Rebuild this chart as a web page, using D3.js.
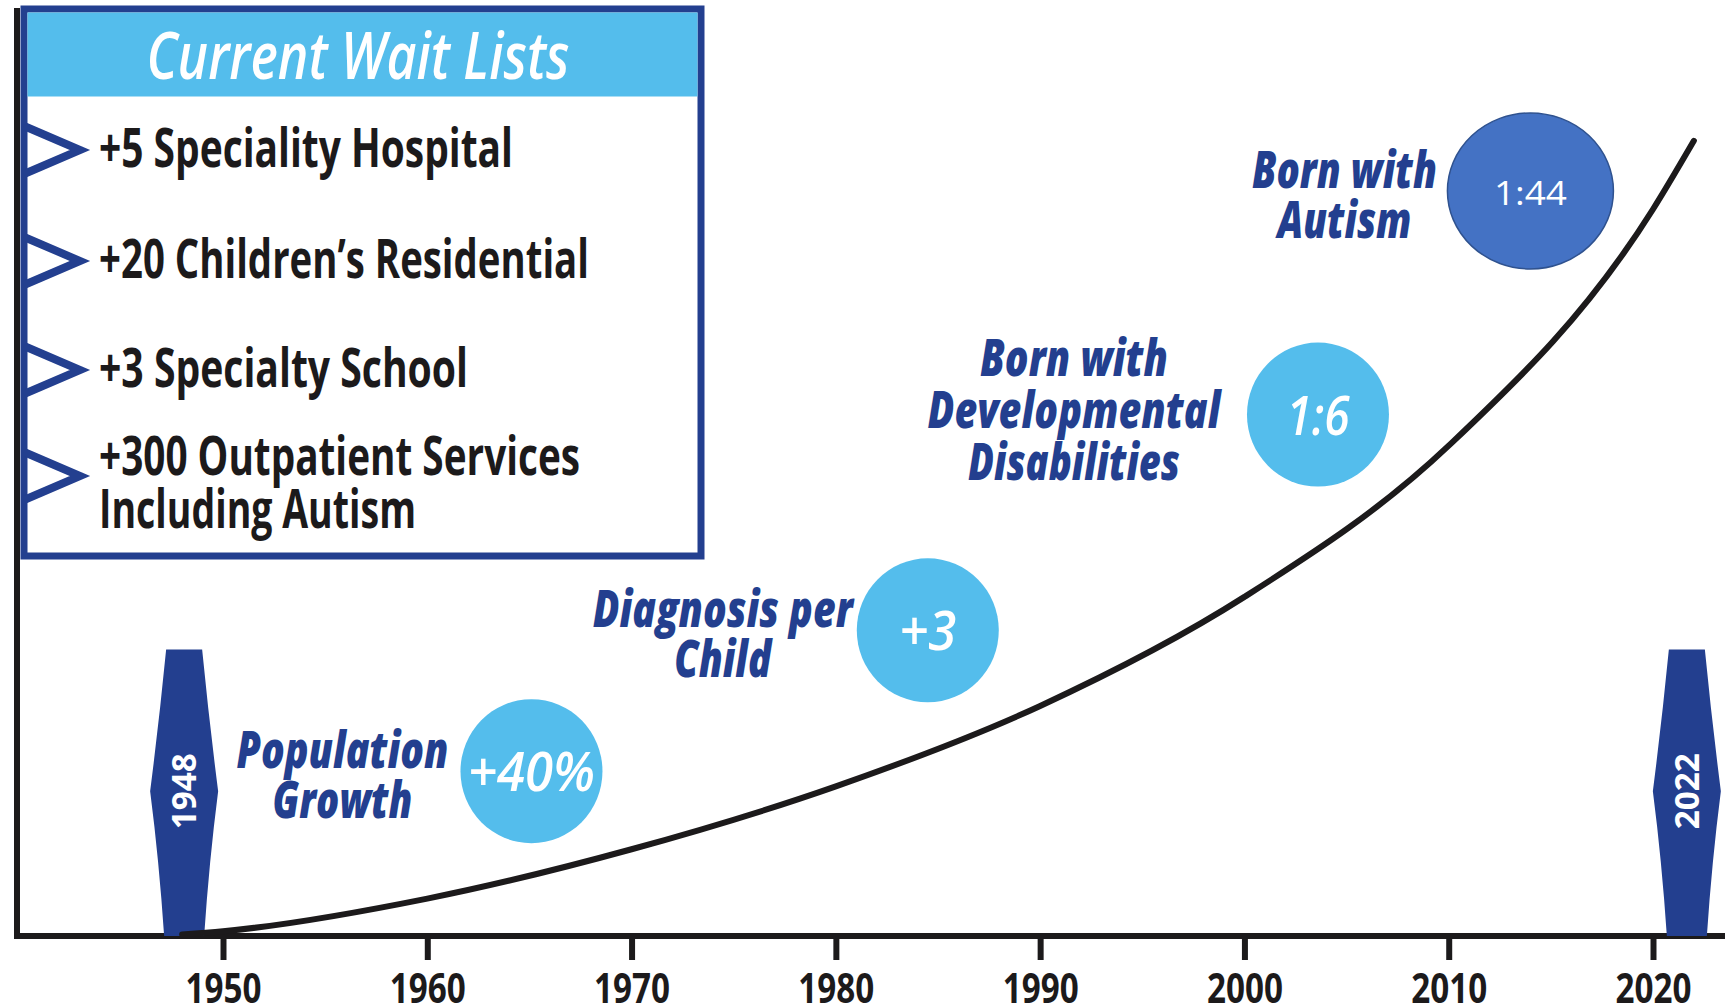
<!DOCTYPE html>
<html>
<head>
<meta charset="utf-8">
<script src="https://cdn.jsdelivr.net/npm/d3@7"></script>
<style>
  body { margin: 0; background: #fff; }
  svg { display: block; }
</style>
</head>
<body>
<svg id="chart"></svg>
<script>
// curve data (relative growth level)
const years = [1948, 1950, 1960, 1970, 1980, 1990, 2000, 2010, 2020, 2022];
const growth = [0.2, 0.6, 4.7, 10.9, 18.8, 28.9, 42.6, 61.6, 91.3, 99.9];

const tickYears = [1950, 1960, 1970, 1980, 1990, 2000, 2010, 2020];
const markerYears = [1948, 2022];

const waitTitle = "Current Wait Lists";
const waitItems = [
  ["+5 Speciality Hospital"],
  ["+20 Children\u2019s Residential"],
  ["+3 Specialty School"],
  ["+300 Outpatient Services", "Including Autism"]
];

const calloutValues = ["+40%", "+3", "1:6", "1:44"];
const calloutYears = [1965.1, 1984.5, 2003.6, 2014.0];
const calloutLevels = [20.7, 38.4, 65.5, 93.6];
const calloutLabels = [
  ["Population", "Growth"],
  ["Diagnosis per", "Child"],
  ["Born with", "Developmental", "Disabilities"],
  ["Born with", "Autism"]
];

const W = 1725, H = 1008;
const navy = "#233f8f", sky = "#54bdec", ink = "#1c1a1b";
const svg = d3.select("#chart").attr("width", W).attr("height", H);

const x = d3.scaleLinear().domain([1950, 2020]).range([223, 1653]);
const y = d3.scaleLinear().domain([0, 100]).range([936, 140]);
const axisY = y(0);

// axes
svg.append("line")
  .attr("x1", 17).attr("x2", 17).attr("y1", 8).attr("y2", axisY + 3)
  .attr("stroke", ink).attr("stroke-width", 6);

const xAxis = d3.axisBottom(x).tickValues(tickYears).tickFormat(d3.format("d"))
  .tickSize(24).tickPadding(13);
const gx = svg.append("g").attr("transform", `translate(0,${axisY})`).call(xAxis);
gx.select(".domain").remove();
gx.selectAll(".tick line").attr("stroke", ink).attr("stroke-width", 6);
gx.selectAll(".tick text")
  .attr("fill", ink)
  .style("font-family", "'Open Sans', sans-serif")
  .style("font-weight", 700)
  .style("font-size", "42px")
  .attr("textLength", 76).attr("lengthAdjust", "spacingAndGlyphs");
svg.append("line")
  .attr("x1", 14).attr("x2", W).attr("y1", axisY).attr("y2", axisY)
  .attr("stroke", ink).attr("stroke-width", 6);

// year markers (elongated hexagons)
const markerTop = y(36.0);
const markerMid = y(18.2);
markerYears.forEach((yr, k) => {
  const cx = x(yr) + (k === 0 ? 2 : -7);
  const p = d3.path();
  p.moveTo(cx - 18, markerTop);
  p.lineTo(cx + 18, markerTop);
  p.quadraticCurveTo(cx + 25, markerMid - 70, cx + 34, markerMid);
  p.quadraticCurveTo(cx + 25, markerMid + 70, cx + 20, axisY);
  p.lineTo(cx - 20, axisY);
  p.quadraticCurveTo(cx - 25, markerMid + 70, cx - 34, markerMid);
  p.quadraticCurveTo(cx - 25, markerMid - 70, cx - 18, markerTop);
  p.closePath();
  svg.append("path").attr("d", p.toString()).attr("fill", navy);
  svg.append("text")
    .attr("transform", `translate(${cx + 12},${markerMid}) rotate(-90)`)
    .attr("text-anchor", "middle")
    .attr("fill", "#fff")
    .style("font-family", "'Open Sans', sans-serif")
    .style("font-weight", 700)
    .style("font-size", "34px")
    .attr("textLength", 76).attr("lengthAdjust", "spacingAndGlyphs")
    .text(yr);
});

// growth curve
const line = d3.line()
  .x((d, i) => x(years[i]))
  .y(d => y(d))
  .curve(d3.curveMonotoneX);
svg.append("path")
  .datum(growth)
  .attr("d", line)
  .attr("fill", "none")
  .attr("stroke", ink)
  .attr("stroke-width", 6)
  .attr("stroke-linecap", "round");

// callouts
const labelDx = [-189, -205, -244, -186];
const labelLen = [[212, 140], [260, 97], [188, 293, 212], [185, 134]];
const valueLen = [127, 57, 63, 73];
calloutValues.forEach((v, i) => {
  const cx = x(calloutYears[i]), cy = y(calloutLevels[i]);
  const lines = calloutLabels[i];
  const top = lines.length === 3 ? -39 : -3;
  lines.forEach((t, j) => {
    svg.append("text")
      .attr("x", cx + labelDx[i]).attr("y", cy + top + j * (lines.length === 3 ? 52 : 50))
      .attr("text-anchor", "middle")
      .attr("fill", navy)
      .style("font-family", "'Open Sans', sans-serif")
      .style("font-weight", 800).style("font-style", "italic")
      .style("font-size", "52px")
      .attr("textLength", labelLen[i][j]).attr("lengthAdjust", "spacingAndGlyphs")
      .text(t);
  });
  const last = i === calloutValues.length - 1;
  svg.append("ellipse")
    .attr("cx", cx).attr("cy", cy)
    .attr("rx", last ? 83 : 71).attr("ry", last ? 78 : 72)
    .attr("fill", last ? "#4472c4" : sky)
    .attr("stroke", last ? "#2f528f" : "none").attr("stroke-width", 1.5);
  svg.append("text")
    .attr("x", cx).attr("y", cy + (last ? 14 : 20))
    .attr("text-anchor", "middle")
    .attr("fill", "#fff")
    .style("font-family", "'Open Sans', sans-serif")
    .style("font-weight", last ? 400 : 600).style("font-style", last ? "normal" : "italic")
    .style("font-size", last ? "33px" : "54px")
    .attr("textLength", valueLen[i]).attr("lengthAdjust", "spacingAndGlyphs")
    .text(v);
});

// wait list box
const box = svg.append("g");
box.append("rect")
  .attr("x", 24).attr("y", 9).attr("width", 677).attr("height", 547)
  .attr("fill", "#fff").attr("stroke", navy).attr("stroke-width", 7);
box.append("rect")
  .attr("x", 27.5).attr("y", 12.5).attr("width", 670).attr("height", 84)
  .attr("fill", sky);
box.append("text")
  .attr("x", 358).attr("y", 79)
  .attr("text-anchor", "middle")
  .attr("fill", "#fff")
  .style("font-family", "'Open Sans', sans-serif")
  .style("font-weight", 600).style("font-style", "italic")
  .style("font-size", "66px")
  .attr("textLength", 423).attr("lengthAdjust", "spacingAndGlyphs")
  .text(waitTitle);

const rowY = [150, 261, 370, 476];
const rowBase = [[167], [278], [387], [475, 528]];
const rowLen = [[414], [490], [369], [481, 317]];
waitItems.forEach((lines, i) => {
  const cy = rowY[i];
  box.append("path")
    .attr("d", d3.line()([[24, cy - 24], [80, cy], [24, cy + 24]]))
    .attr("fill", "none").attr("stroke", navy).attr("stroke-width", 8)
    .attr("stroke-linejoin", "miter");
  lines.forEach((t, j) => {
    box.append("text")
      .attr("x", 99).attr("y", rowBase[i][j])
      .attr("fill", ink)
      .style("font-family", "'Open Sans', sans-serif")
      .style("font-weight", 700)
      .style("font-size", "53px")
      .attr("textLength", rowLen[i][j]).attr("lengthAdjust", "spacingAndGlyphs")
      .text(t);
  });
});
</script>
</body>
</html>
